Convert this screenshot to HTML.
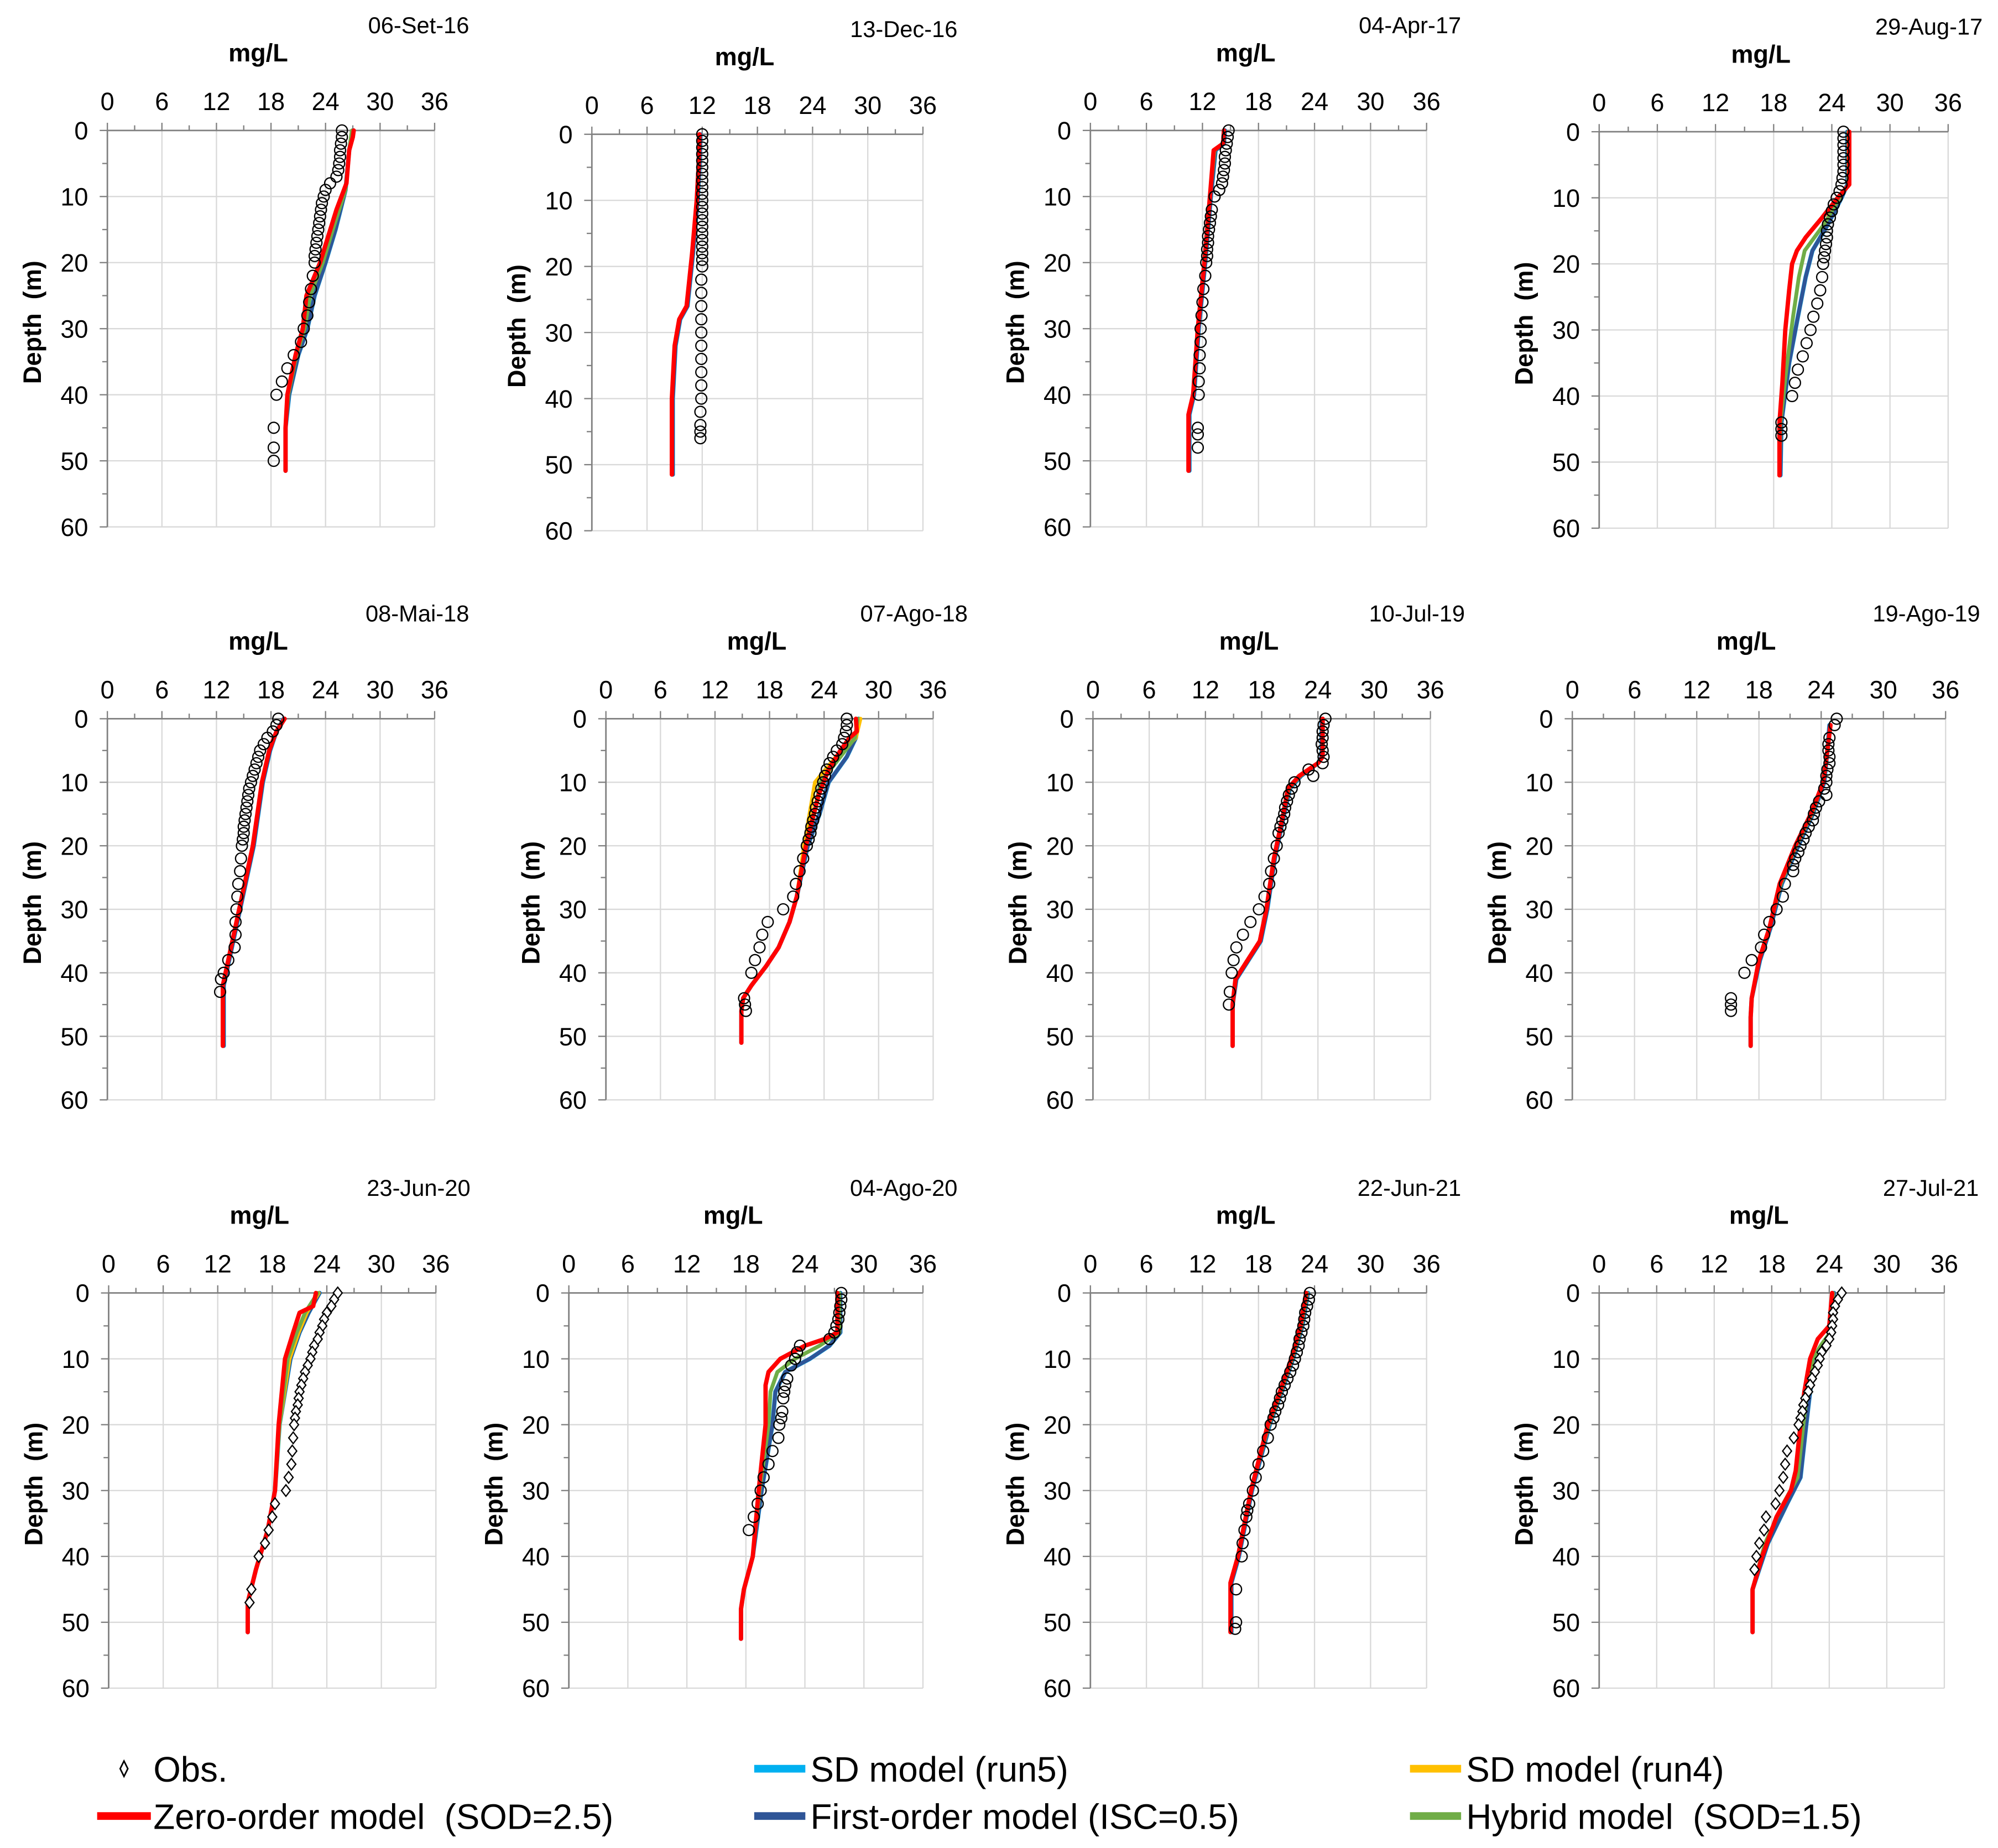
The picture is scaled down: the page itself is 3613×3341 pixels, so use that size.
<!DOCTYPE html>
<html><head><meta charset="utf-8">
<style>
html,body{margin:0;padding:0;background:#fff;}
svg{display:block;}
text{font-family:"Liberation Sans",Arial,sans-serif;white-space:pre;}
</style></head>
<body>
<svg id="chart" xmlns="http://www.w3.org/2000/svg" width="3613" height="3341" viewBox="0 0 1563 1445" preserveAspectRatio="none">
<rect width="1563" height="1445" fill="#fff"/>
<g id="panels"></g>
<g id="legend">
  <g>
    <path d="M97,1377 L100,1383 L97,1389 L94,1383 Z" fill="#fff" stroke="#000" stroke-width="1.2"/>
    <text x="120" y="1393" font-size="27.5" xml:space="preserve">Obs.</text>
  </g>
  <g>
    <line x1="590" y1="1383" x2="630" y2="1383" stroke="#00b0f0" stroke-width="6"/>
    <text x="634" y="1393" font-size="27.5" xml:space="preserve">SD model (run5)</text>
  </g>
  <g>
    <line x1="1103" y1="1383" x2="1143" y2="1383" stroke="#ffc000" stroke-width="6"/>
    <text x="1147" y="1393" font-size="27.5" xml:space="preserve">SD model (run4)</text>
  </g>
  <g>
    <line x1="76" y1="1420" x2="118" y2="1420" stroke="#ff0000" stroke-width="6"/>
    <text x="120" y="1430" font-size="27.5" xml:space="preserve">Zero-order model  (SOD=2.5)</text>
  </g>
  <g>
    <line x1="590" y1="1420" x2="630" y2="1420" stroke="#2f5597" stroke-width="6"/>
    <text x="634" y="1430" font-size="27.5" xml:space="preserve">First-order model (ISC=0.5)</text>
  </g>
  <g>
    <line x1="1103" y1="1420" x2="1143" y2="1420" stroke="#70ad47" stroke-width="6"/>
    <text x="1147" y="1430" font-size="27.5" xml:space="preserve">Hybrid model  (SOD=1.5)</text>
  </g>
</g>
</svg>
<script>
// ---- data ----
const xTicks = [0, 6, 12, 18, 24, 30, 36];
const yTicks = [0, 10, 20, 30, 40, 50, 60];
const titles = ["06-Set-16","13-Dec-16","04-Apr-17","29-Aug-17","08-Mai-18","07-Ago-18","10-Jul-19","19-Ago-19","23-Jun-20","04-Ago-20","22-Jun-21","27-Jul-21"];
// observations: [depth, value]
const obs1 = [[0,25.8],[1,25.8],[2,25.7],[3,25.6],[4,25.6],[5,25.5],[6,25.4],[7,25.2],[8,24.5],[9,24],[10,23.8],[11,23.6],[12,23.5],[13,23.4],[14,23.3],[15,23.2],[16,23.1],[17,23],[18,22.9],[19,22.8],[20,22.8],[22,22.6],[24,22.4],[26,22.2],[28,22],[30,21.6],[32,21.3],[34,20.5],[36,19.8],[38,19.2],[40,18.6],[45,18.3],[48,18.3],[50,18.3]];
const obs2 = [[0,12],[1,12],[2,12],[3,12],[4,12],[5,12],[6,12],[7,12],[8,12],[9,12],[10,12],[11,12],[12,12],[13,12],[14,12],[15,12],[16,12],[17,12],[18,12],[19,12],[20,12],[22,11.9],[24,11.9],[26,11.9],[28,11.9],[30,11.9],[32,11.9],[34,11.9],[36,11.9],[38,11.9],[40,11.9],[42,11.8],[44,11.8],[45,11.8],[46,11.8]];
const obs3 = [[0,14.8],[1,14.7],[2,14.6],[3,14.5],[4,14.4],[5,14.4],[6,14.3],[7,14.2],[8,14.1],[9,13.8],[10,13.3],[12,13],[13,12.9],[14,12.8],[15,12.7],[16,12.6],[17,12.6],[18,12.5],[19,12.5],[20,12.4],[22,12.3],[24,12.1],[26,12],[28,11.9],[30,11.8],[32,11.8],[34,11.7],[36,11.7],[38,11.6],[40,11.6],[45,11.5],[46,11.5],[48,11.5]];
const obs4 = [[0,25.2],[1,25.2],[2,25.2],[3,25.2],[4,25.2],[5,25.2],[6,25.2],[7,25.1],[8,25],[9,24.8],[10,24.5],[11,24.2],[12,24],[13,23.8],[14,23.6],[15,23.5],[16,23.5],[17,23.4],[18,23.3],[19,23.2],[20,23.1],[22,23],[24,22.8],[26,22.5],[28,22.1],[30,21.8],[32,21.4],[34,21],[36,20.5],[38,20.2],[40,19.9],[44,18.8],[45,18.8],[46,18.8]];
const obs5 = [[0,18.8],[1,18.6],[2,18.2],[3,17.6],[4,17.2],[5,16.8],[6,16.6],[7,16.4],[8,16.2],[9,16],[10,15.8],[11,15.6],[12,15.5],[13,15.4],[14,15.3],[15,15.2],[16,15.1],[17,15],[18,15],[19,14.9],[20,14.8],[22,14.7],[24,14.6],[26,14.4],[28,14.3],[30,14.2],[32,14.1],[34,14.1],[36,14],[38,13.3],[40,12.8],[41,12.5],[43,12.4]];
const obs6 = [[0,26.5],[1,26.5],[2,26.4],[3,26.2],[4,26],[5,25.4],[6,25],[7,24.6],[8,24.3],[9,24.1],[10,23.9],[11,23.7],[12,23.5],[13,23.3],[14,23.1],[15,23],[16,22.8],[17,22.6],[18,22.5],[19,22.3],[20,22.1],[22,21.7],[24,21.3],[26,20.9],[28,20.6],[30,19.5],[32,17.8],[34,17.2],[36,16.9],[38,16.4],[40,16],[44,15.2],[45,15.3],[46,15.4]];
const obs7 = [[0,24.8],[1,24.6],[2,24.5],[3,24.5],[4,24.4],[5,24.5],[6,24.6],[7,24.5],[8,23],[9,23.5],[10,21.5],[11,21.2],[12,20.9],[13,20.7],[14,20.5],[15,20.4],[16,20.2],[17,20],[18,19.8],[20,19.6],[22,19.3],[24,19],[26,18.8],[28,18.3],[30,17.7],[32,16.8],[34,16],[36,15.3],[38,15],[40,14.8],[43,14.6],[45,14.5]];
const obs8 = [[0,25.5],[1,25.3],[3,24.8],[4,24.7],[5,24.7],[6,24.8],[7,24.8],[8,24.6],[9,24.5],[10,24.5],[11,24.3],[12,24.5],[13,23.8],[14,23.5],[15,23.3],[16,23.2],[17,22.8],[18,22.5],[19,22.3],[20,22],[21,21.8],[22,21.5],[23,21.3],[24,21.3],[26,20.5],[28,20.3],[30,19.7],[32,19],[34,18.5],[36,18.2],[38,17.3],[40,16.6],[44,15.3],[45,15.3],[46,15.3]];
const obs9 = [[0,25.2],[1,24.8],[2,24.5],[3,24],[4,23.7],[5,23.5],[6,23.2],[7,23],[8,22.6],[9,22.4],[10,22.2],[11,21.9],[12,21.6],[13,21.4],[14,21.2],[15,21],[16,20.9],[17,20.8],[18,20.6],[19,20.5],[20,20.4],[22,20.3],[24,20.2],[26,20.1],[28,19.8],[30,19.5],[32,18.3],[34,18],[36,17.6],[38,17.2],[40,16.5],[45,15.7],[47,15.5]];
const obs10 = [[0,27.7],[1,27.7],[2,27.6],[3,27.5],[4,27.4],[5,27.2],[6,27],[7,26.5],[8,23.5],[9,23.2],[10,23],[11,22.6],[13,22.2],[14,22],[15,21.9],[16,21.8],[18,21.7],[19,21.6],[20,21.4],[22,21.3],[24,20.7],[26,20.3],[28,19.8],[30,19.5],[32,19.2],[34,18.8],[36,18.3]];
const obs11 = [[0,23.5],[1,23.4],[2,23.2],[3,23],[4,22.9],[5,22.8],[6,22.6],[7,22.4],[8,22.3],[9,22.1],[10,21.9],[11,21.7],[12,21.4],[13,21.1],[14,20.8],[15,20.5],[16,20.3],[17,20.1],[18,19.8],[19,19.6],[20,19.3],[22,19],[24,18.5],[26,18],[28,17.7],[30,17.4],[32,17],[33,16.8],[34,16.7],[36,16.5],[38,16.3],[40,16.2],[45,15.6],[50,15.6],[51,15.5]];
const obs12 = [[0,25.3],[1,24.9],[2,24.6],[3,24.4],[4,24.4],[5,24.3],[6,24.2],[7,24],[8,23.7],[9,23.2],[10,23],[11,22.8],[12,22.5],[13,22.2],[14,22],[15,21.8],[16,21.5],[17,21.3],[18,21.2],[19,21],[20,20.8],[22,20.3],[24,19.6],[26,19.4],[28,19.2],[30,18.8],[32,18.4],[34,17.4],[36,17.2],[38,16.7],[40,16.4],[42,16.2]];
// model series: [depth, value]
const red1 = [[0,27.1],[1,27],[3,26.6],[8,26.3],[12,25.2],[20,23.4],[25,21.9],[30,21.5],[34,20.7],[40,19.8],[45,19.6],[51.5,19.6]];
const blue1 = [[0,27],[3,26.6],[9,26.2],[15,25.1],[20,24],[25,22.8],[30,22],[34,21],[40,20],[45,19.6],[51.5,19.6]];
const green1 = [[0,26.9],[3,26.6],[9,26.2],[15,24.8],[20,23.7],[25,22.3],[30,21.7],[34,20.8],[40,19.9],[45,19.6],[51.5,19.6]];
const red2 = [[0,11.7],[5,11.6],[10,11.4],[18,10.9],[26,10.3],[28,9.5],[32,9],[40,8.7],[51.5,8.7]];
const blue2 = [[0,11.8],[5,11.7],[10,11.5],[18,11],[26,10.4],[28,9.6],[32,9.1],[40,8.8],[51.5,8.8]];
const green2 = [[0,11.7],[5,11.6],[10,11.4],[18,10.9],[26,10.3],[28,9.5],[32,9],[40,8.7],[51.5,8.7]];
const red3 = [[0,14.3],[2,14.2],[3,13.2],[10,12.8],[20,12.2],[30,11.5],[40,11],[43,10.5],[51.5,10.5]];
const blue3 = [[0,14.4],[2,14.3],[3,13.4],[10,12.9],[20,12.3],[30,11.6],[40,11.1],[43,10.6],[51.5,10.6]];
const green3 = [[0,14.3],[2,14.2],[3,13.3],[10,12.8],[20,12.2],[30,11.5],[40,11],[43,10.5],[51.5,10.5]];
const red4 = [[0,25.8],[8,25.8],[10,24.6],[13,23],[16,21.3],[18,20.4],[20,19.9],[24,19.6],[30,19.2],[38,18.9],[44,18.6],[52,18.6]];
const blue4 = [[0,25.6],[8,25.6],[10,25],[14,23.6],[18,22],[22,21.3],[28,20.5],[35,19.6],[44,18.8],[52,18.7]];
const green4 = [[0,25.7],[8,25.7],[10,24.8],[14,23.2],[18,21.2],[22,20.6],[28,20],[36,19.3],[44,18.7],[52,18.6]];
const red5 = [[0,19.5],[2,18.6],[5,17.8],[10,17],[20,16],[30,14.5],[36,13.6],[42,12.7],[51.5,12.7]];
const blue5 = [[0,19.4],[2,18.6],[5,17.9],[10,17.1],[20,16.1],[30,14.6],[36,13.7],[42,12.8],[51.5,12.8]];
const green5 = [[0,19.5],[2,18.6],[5,17.8],[10,17],[20,16],[30,14.5],[36,13.6],[42,12.7],[51.5,12.7]];
const red6 = [[0,27.5],[2,27.6],[3,26.8],[5,25.8],[8,24.5],[12,23.4],[20,22],[28,21],[32,20.2],[36,19],[39,17.6],[42,16],[44,15.1],[46,14.9],[51,14.9]];
const blue6 = [[0,27.8],[3,27.5],[6,26.5],[10,24.5],[15,23.5],[20,22.2],[28,21],[32,20.2],[36,19],[39,17.6],[42,16],[44,15.1],[46,14.9],[51,14.9]];
const green6 = [[0,27.7],[3,27.4],[6,25.8],[10,23.6],[15,22.9],[20,22],[28,21],[32,20.2],[36,19],[39,17.6],[42,16],[44,15.1],[46,14.9],[51,14.9]];
const orange6 = [[0,28],[3,27.5],[6,25.3],[10,23],[15,22.4],[20,21.8],[28,21],[32,20.2],[36,19],[39,17.6],[42,16],[44,15.1],[46,14.9],[51,14.9]];
const red7 = [[0,24.5],[6,24.5],[7,24],[9,22],[11,20.8],[15,20.3],[22,19.3],[30,18.5],[35,17.8],[38,16.5],[41,15.2],[45,14.9],[51.5,14.9]];
const blue7 = [[0,24.4],[6,24.4],[7,24],[9,22.2],[11,21],[15,20.4],[22,19.4],[30,18.6],[35,17.9],[38,16.6],[41,15.3],[45,14.9],[51.5,14.9]];
const green7 = [[0,24.5],[6,24.5],[7,24],[9,22.1],[11,20.9],[15,20.3],[22,19.3],[30,18.5],[35,17.8],[38,16.5],[41,15.2],[45,14.9],[51.5,14.9]];
const red8 = [[1,24.9],[5,24.6],[10,24.2],[15,23],[20,21.5],[26,20],[33,19],[38,18],[44,17.3],[47,17.2],[51.5,17.2]];
const blue8 = [[1,24.8],[5,24.6],[10,24.3],[15,23.2],[20,21.8],[26,20.2],[33,19.1],[38,18.1],[44,17.3],[47,17.2],[51.5,17.2]];
const green8 = [[1,24.9],[5,24.6],[10,24.2],[15,23.1],[20,21.6],[26,20.1],[33,19],[38,18],[44,17.3],[47,17.2],[51.5,17.2]];
const red9 = [[0,22.8],[2,22.5],[3,21],[6,20.3],[10,19.4],[20,18.7],[30,18.3],[36,17.5],[42,16.2],[47,15.3],[51.5,15.3]];
const blue9 = [[0,23.2],[3,22],[6,21],[10,20],[20,18.8],[30,18.3],[36,17.5],[42,16.2],[47,15.3],[51.5,15.3]];
const green9 = [[0,23],[3,21.6],[6,20.7],[10,19.7],[20,18.8],[30,18.3],[36,17.5],[42,16.2],[47,15.3],[51.5,15.3]];
const orange9 = [[0,23.1],[3,21.8],[6,20.9],[10,19.9],[20,18.8],[30,18.3],[36,17.5],[42,16.2],[47,15.3],[51.5,15.3]];
const red10 = [[0,27.3],[6,27.3],[7,26],[8,24],[10,21.5],[12,20.3],[14,20],[20,20],[30,19.3],[40,18.7],[45,17.8],[48,17.5],[52.5,17.5]];
const blue10 = [[0,27.6],[6,27.6],[8,26.5],[10,24.5],[12,22],[15,21],[20,20.7],[30,19.6],[40,18.7],[45,17.8],[48,17.5],[52.5,17.5]];
const green10 = [[0,27.5],[6,27.5],[8,25.5],[10,23],[12,21.2],[15,20.5],[20,20.3],[30,19.4],[40,18.7],[45,17.8],[48,17.5],[52.5,17.5]];
const red11 = [[0,23.1],[5,22.5],[10,21.5],[15,20.3],[20,19],[30,17.2],[40,15.8],[44,15],[51.5,15]];
const blue11 = [[0,23.3],[5,22.7],[10,21.7],[15,20.5],[20,19.2],[30,17.3],[40,15.9],[44,15.1],[51.5,15.1]];
const green11 = [[0,23.2],[5,22.6],[10,21.6],[15,20.4],[20,19.1],[30,17.2],[40,15.8],[44,15],[51.5,15]];
const red12 = [[0,24.3],[5,24],[7,22.8],[10,22],[15,21.4],[20,21],[27,20.5],[30,20],[34,18.5],[40,17],[45,16],[51.5,16]];
const blue12 = [[0,24.5],[6,24.2],[8,23.5],[10,22.6],[15,22],[20,21.6],[28,21],[32,19.6],[38,17.6],[45,16],[51.5,16]];
const green12 = [[0,24.4],[6,24.1],[8,23.1],[10,22.3],[15,21.7],[20,21.3],[28,20.7],[32,19.2],[38,17.3],[45,16],[51.5,16]];

const obsSets = [obs1,obs2,obs3,obs4,obs5,obs6,obs7,obs8,obs9,obs10,obs11,obs12];
const redSets = [red1,red2,red3,red4,red5,red6,red7,red8,red9,red10,red11,red12];
const blueSets = [blue1,blue2,blue3,blue4,blue5,blue6,blue7,blue8,blue9,blue10,blue11,blue12];
const greenSets = [green1,green2,green3,green4,green5,green6,green7,green8,green9,green10,green11,green12];
const orangeSets = [null,null,null,null,null,orange6,null,null,orange9,null,null,null];
const diamondObs = [false,false,false,false,false,false,false,false,true,false,false,true];

// ---- layout (pixel frames, not data) ----
const frames = [
 [84,340,102,412],[463,722,105,415],[853,1116,102,412],[1251,1524,103,413],
 [84,340,562,860],[474,730,562,860],[855,1119,562,860],[1230,1522,562,860],
 [85,341,1011,1320],[445,722,1011,1320],[853,1116,1011,1320],[1251,1521,1011,1320]
];
const NS = "http://www.w3.org/2000/svg";
const root = document.getElementById('panels');
function mk(tag, attrs, parent){
  const e = document.createElementNS(NS, tag);
  for (const k in attrs) e.setAttribute(k, attrs[k]);
  parent.appendChild(e);
  return e;
}
frames.forEach((f, i) => {
  const [x0,x1,y0,y1] = f;
  const xs = v => x0 + (v/36)*(x1-x0);
  const ys = d => y0 + (d/60)*(y1-y0);
  const g = mk('g', {}, root);
  
  
  xTicks.forEach(t => { if (t>0) mk('line',{x1:xs(t),y1:y0,x2:xs(t),y2:y1,stroke:'#d9d9d9','stroke-width':1},g); });
  yTicks.forEach(t => { if (t>0) mk('line',{x1:x0,y1:ys(t),x2:x1,y2:ys(t),stroke:'#d9d9d9','stroke-width':1},g); });
  const xa = mk('line',{x1:x0,y1:y0,x2:x1,y2:y0,stroke:'#808080','stroke-width':1.2},g);
  
  
  const ya = mk('line',{x1:x0,y1:y0,x2:x0,y2:y1,stroke:'#808080','stroke-width':1.2},g);
  
  
  for (let t=0; t<=36; t+=3) mk('line',{x1:xs(t),y1:y0-(t%6===0?6:4),x2:xs(t),y2:y0,stroke:'#808080','stroke-width':1},g);
  for (let d=0; d<=60; d+=5) mk('line',{x1:x0-(d%10===0?6:4),y1:ys(d),x2:x0,y2:ys(d),stroke:'#808080','stroke-width':1},g);
  xTicks.forEach(t => {
    const tx = mk('text',{x:xs(t),y:y0-16,'font-size':19.5,'text-anchor':'middle',fill:'#000'},g);
    tx.textContent = t;
    
    
  });
  yTicks.forEach(t => {
    const tx = mk('text',{x:x0-15,y:ys(t)+7,'font-size':19.5,'text-anchor':'end',fill:'#000'},g);
    tx.textContent = t;
    
    
  });
  const unit = mk('text',{x:(x0+x1)/2 - 10,y:y0-54,'font-size':19.5,'font-weight':'bold','text-anchor':'middle'},g);
  unit.textContent = 'mg/L';
  
  
  const ttl = mk('text',{x:x1+27,y:y0-76,'font-size':18,'text-anchor':'end'},g);
  ttl.textContent = titles[i];
  
  
  const cy = (y0+y1)/2 - 5;
  const yl = mk('text',{x:x0-52,y:cy,'font-size':19.5,'font-weight':'bold','text-anchor':'middle'},g);
  yl.setAttribute('transform',`rotate(-90 ${x0-52} ${cy})`);
  yl.textContent = 'Depth  (m)';
  
  
  const line = (arr, color, w, name) => {
    if (!arr) return;
    const p = mk('polyline',{points:arr.map(a=>xs(a[1]).toFixed(2)+','+ys(a[0]).toFixed(2)).join(' '),fill:'none',stroke:color,'stroke-width':w,'stroke-linejoin':'round','stroke-linecap':'round'},g);
    
    
  };
  line(blueSets[i], '#00b0f0', 3.4, 'sd-run5-line');
  line(blueSets[i], '#2f5597', 3, 'first-order-line');
  line(orangeSets[i], '#ffc000', 3, 'sd-run4-line');
  line(greenSets[i], '#70ad47', 3, 'hybrid-line');
  line(redSets[i], '#ff0000', 3.4, 'zero-order-line');
  obsSets[i].forEach(o => {
    const cx = xs(o[1]), cyy = ys(o[0]);
    let m;
    if (diamondObs[i]) {
      m = mk('path',{d:`M${cx},${cyy-4.5} L${cx+3.5},${cyy} L${cx},${cyy+4.5} L${cx-3.5},${cyy} Z`,fill:'#fff',stroke:'#000','stroke-width':1},g);
    } else {
      m = mk('circle',{cx:cx,cy:cyy,r:4.3,fill:'none',stroke:'#000','stroke-width':1},g);
    }
    
    
  });
});
</script>
</body></html>
